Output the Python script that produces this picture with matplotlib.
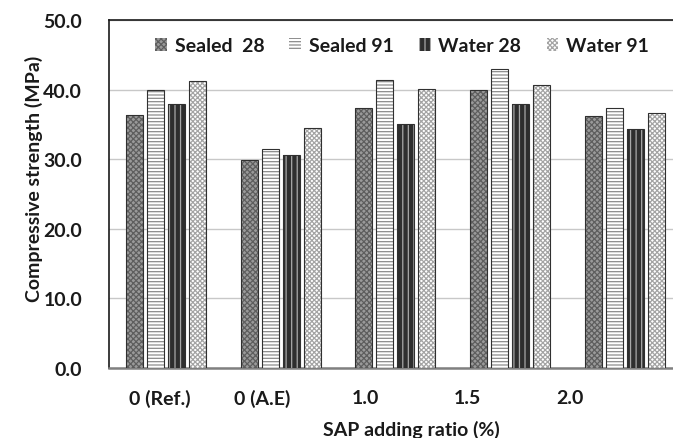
import matplotlib
matplotlib.use('Agg')
import matplotlib.pyplot as plt
import numpy as np

plt.rcParams['font.family'] = ['Lato', 'DejaVu Sans']
plt.rcParams['font.weight'] = 'bold'
plt.rcParams['axes.labelweight'] = 'bold'
plt.rcParams['hatch.linewidth'] = 0.9

# --- Data ---
categories = ['0 (Ref.)', '0 (A.E)', '1.0', '1.5', '2.0']
series_names = ['Sealed  28', 'Sealed 91', 'Water 28', 'Water 91']
sealed_28 = [36.4, 29.9, 37.4, 40.0, 36.2]
sealed_91 = [40.0, 31.4, 41.4, 43.0, 37.4]
water_28 = [37.9, 30.6, 35.1, 37.9, 34.4]
water_91 = [41.2, 34.5, 40.1, 40.7, 36.6]
y_ticks = [0, 10, 20, 30, 40, 50]

# --- Styles: (face, hatch colour, hatch) ---
styles = [
    ('#9a9a9a', '#5e5e5e', 'xxxxxx'),
    ('#ffffff', '#8c8c8c', '-----'),
    ('#2e2e2e', '#a8a8a8', '|||'),
    ('#ffffff', '#a4a4a4', 'xxxxxxx'),
]

fig = plt.figure(figsize=(6.73, 4.39), dpi=100)
ax = fig.add_axes([108.6 / 673, 70 / 439, 573.5 / 673, 348 / 439])

x = np.arange(len(categories))
width = 0.148
pitch = 0.183
all_series = [sealed_28, sealed_91, water_28, water_91]
for i, (vals, name) in enumerate(zip(all_series, series_names)):
    face, hcol, hatch = styles[i]
    pos = x + (i - 1.5) * pitch
    ax.bar(pos, vals, width, color=face, edgecolor=hcol, hatch=hatch,
           linewidth=0, label=name, zorder=3)
    ax.bar(pos, vals, width, fill=False, edgecolor='#303030',
           linewidth=0.8, zorder=4)

ax.set_xlim(-0.5, 4.5)
ax.set_ylim(0, 50)
ax.set_yticks(y_ticks)
ax.set_yticklabels([f'{v:.1f}' for v in y_ticks], fontsize=14, color='#1a1a1a')
ax.tick_params(axis='y', length=0, pad=19)

# tick labels sit a bit left of the groups in the reference
label_pos = -0.05 + x * 0.893
ax.set_xticks(label_pos)
ax.set_xticklabels(categories, fontsize=14, color='#1a1a1a')
ax.tick_params(axis='x', length=0, pad=15)

ax.grid(axis='y', color='#c8c8c8', linewidth=1.0, zorder=0)
ax.set_axisbelow(True)
for s in ['left', 'top']:
    ax.spines[s].set_color('#1a1a1a')
    ax.spines[s].set_linewidth(1.2)
ax.spines['bottom'].set_color('#808080')
ax.spines['bottom'].set_linewidth(1.8)
ax.spines['right'].set_visible(False)

ax.set_ylabel('Compressive strength (MPa)', fontsize=14, color='#1a1a1a')
ax.yaxis.set_label_coords(-0.114, 0.545)
ax.set_xlabel('SAP adding ratio (%)', fontsize=14, color='#1a1a1a')
ax.xaxis.set_label_coords((411 - 108.6) / 573.5, -0.148)

leg = ax.legend(ncol=4, frameon=False, loc='center', bbox_to_anchor=((402 - 108.6) / 573.5, 0.926),
                fontsize=14, handlelength=0.6, handleheight=0.6, handletextpad=0.4,
                columnspacing=1.3)
for t in leg.get_texts():
    t.set_color('#1a1a1a')

fig.savefig('out.png', dpi=100)
